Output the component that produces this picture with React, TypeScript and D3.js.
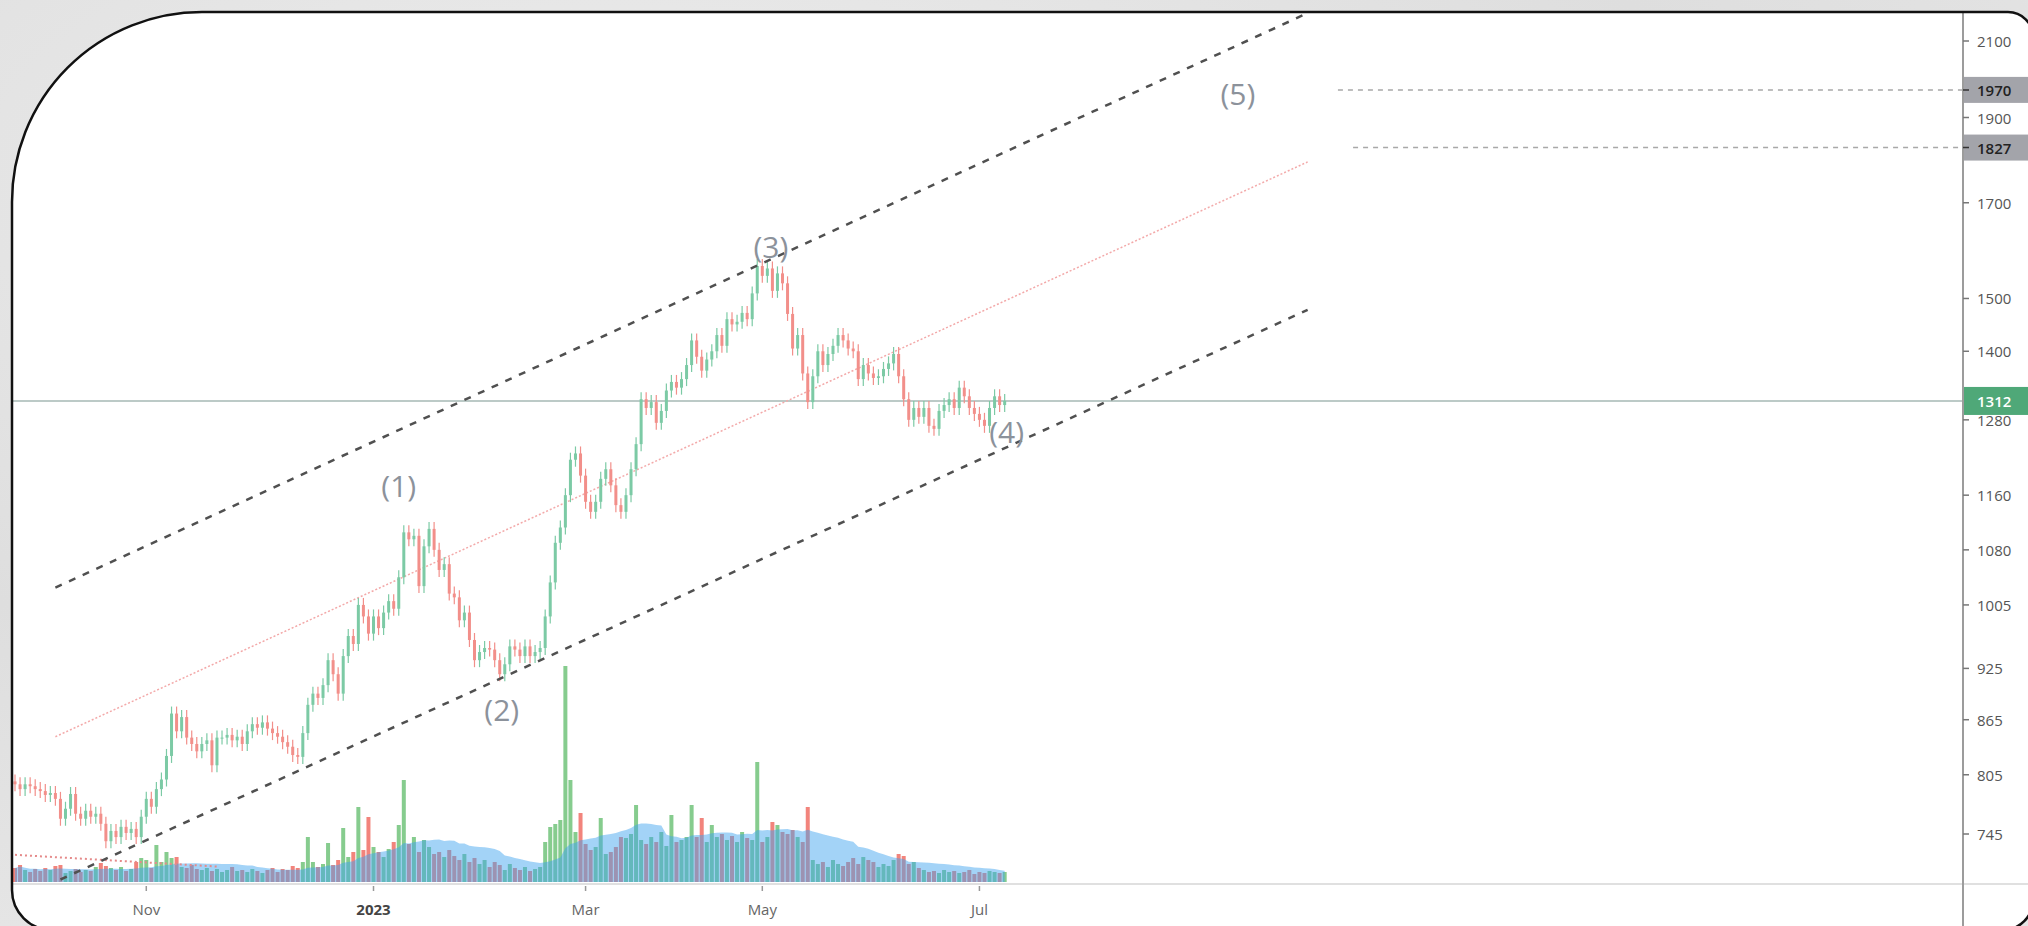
import * as d3 from "d3";

// daily closes, one per trading day (Sep 2022 -> Jul 2023)
const closes = [
  795, 790, 795, 793, 790, 788, 784, 786, 780, 760,
  770, 785, 765, 760, 768, 762, 765, 755, 738, 748,
  742, 752, 746, 750, 742, 762, 780, 772, 790, 800,
  825, 872, 852, 868, 845, 838, 830, 838, 842, 815,
  845, 845, 848, 842, 846, 838, 852, 860, 856, 862,
  855, 850, 846, 840, 835, 826, 824, 850, 882, 895,
  890, 905, 935, 918, 895, 940, 965, 955, 1005, 990,
  968, 990, 975, 995, 1010, 1000, 1042, 1105, 1095, 1100,
  1030, 1085, 1110, 1080, 1052, 1060, 1020, 1015, 985, 995,
  960, 935, 945, 950, 948, 935, 918, 930, 952, 948,
  940, 952, 940, 945, 950, 990, 1035, 1090, 1112, 1160,
  1215, 1225, 1190, 1150, 1135, 1150, 1185, 1200, 1175, 1145,
  1135, 1160, 1200, 1240, 1315, 1300, 1310, 1275, 1295, 1330,
  1345, 1335, 1350, 1375, 1420, 1390, 1365, 1385, 1400, 1430,
  1410, 1460, 1450, 1455, 1472, 1460, 1510, 1565, 1545, 1560,
  1515, 1550, 1530, 1470, 1405, 1430, 1360, 1310, 1355, 1400,
  1375, 1395, 1410, 1430, 1420, 1405, 1400, 1350, 1375, 1360,
  1352, 1355, 1368, 1378, 1395, 1355, 1315, 1280, 1300, 1285,
  1300, 1270, 1265, 1295, 1305, 1315, 1300, 1335, 1320, 1300,
  1290, 1280, 1270, 1300, 1320, 1305, 1312,
];
const firstOpen = 798;

const volumes = [
  14, 17, 12, 10, 13, 11, 14, 12, 16, 17,
  9, 11, 13, 10, 12, 11, 15, 19, 16, 14,
  12, 15, 11, 13, 20, 24, 22, 14, 37, 20,
  30, 24, 25, 15, 14, 17, 13, 12, 14, 11,
  13, 10, 12, 15, 11, 12, 10, 13, 11, 9,
  12, 14, 10, 13, 12, 16, 14, 20, 45, 20,
  15, 18, 39, 17, 22, 54, 25, 30, 75, 32,
  65, 35, 30, 25, 33, 40, 57, 102, 38, 45,
  30, 42, 35, 28, 30, 25, 32, 26, 22, 28,
  20, 24, 18, 22, 15, 20, 17, 12, 18, 14,
  12, 15, 11, 13, 15, 40, 55, 58, 62, 216,
  102, 50, 69, 38, 32, 35, 64, 28, 30, 35,
  45, 44, 48, 77, 42, 38, 45, 40, 50, 36,
  67, 40, 42, 45, 77, 45, 64, 40, 57, 45,
  48, 42, 46, 40, 50, 44, 42, 120, 40, 45,
  60, 57, 50, 48, 52, 45, 40, 75, 22, 18,
  20, 15, 22, 18, 16, 20, 24, 18, 25, 22,
  20, 15, 18, 16, 22, 28, 26, 18, 20, 14,
  12, 10, 11, 9, 12, 10, 11, 9, 10, 12,
  8, 10, 9, 11, 10, 9, 10,
];
const volumeMaPeriod = 20;

const priceTicks = [2100, 1900, 1700, 1500, 1400, 1280, 1160, 1080, 1005, 925, 865, 805, 745];
const lastPrice = 1312;

const timeLabels = ["Nov", "2023", "Mar", "May", "Jul"];
const timeBars = [26, 71, 113, 148, 191];

const targetPrices = [1970, 1827];
const targetStartBars = [262, 265];

// trend lines as [bar, price]
const upperChannel = [[8, 1028], [256, 2178]];
const lowerChannel = [[9, 702], [256, 1478]];
const midLine = [[8, 846], [256, 1793]];
const oldLine = [[0, 725], [40, 714]];

const waveLabels = ["(1)", "(2)", "(3)", "(4)", "(5)"];
const waveBars = [76, 96.4, 149.7, 196.4, 242.2];
const wavePrices = [1174, 877, 1605, 1260, 1962];

const W = 2028;
const H = 926;
const AXIS_X = 1963;
const SEP_Y = 884;
const UP = "#7ccaa5";
const DOWN = "#f28f8a";
const FONT = "'Open Sans', 'Noto Sans', sans-serif";

export default function App() {
  const x = d3.scaleLinear().domain([0, 385]).range([15, 1959]);
  const y = d3.scaleLog().domain([745, 2100]).range([834, 41]);
  const v = d3.scaleLinear().domain([0, 250]).range([882, 632]);

  const opens = closes.map((c, i) => (i === 0 ? firstOpen : closes[i - 1]));

  // volume moving average (the blue area)
  const ma = volumes.map((_, i) => {
    const from = Math.max(0, i - volumeMaPeriod + 1);
    return d3.mean(volumes.slice(from, i + 1)) as number;
  });

  const maArea = d3
    .area<number>()
    .x((_, i) => x(i))
    .y0(v(0))
    .y1((d) => v(d));

  const line = d3
    .line<number[]>()
    .x((d) => x(d[0]))
    .y((d) => y(d[1]));

  const R = 190;
  const frame = `M 12 ${12 + R} A ${R} ${R} 0 0 1 ${12 + R} 12 L 2008 12 A 25 25 0 0 1 2033 37 L 2033 900 A 30 30 0 0 1 2003 930 L 52 930 A 40 40 0 0 1 12 890 Z`;

  return (
    <>
      <style>{`body{margin:0;}`}</style>
      <svg width={W} height={H} style={{ display: "block" }} fontFamily={FONT}>
        <defs>
          <clipPath id="frameClip">
            <path d={frame} />
          </clipPath>
          <clipPath id="plotClip">
            <rect x={0} y={0} width={AXIS_X} height={SEP_Y} />
          </clipPath>
          <radialGradient id="marble" cx="0.3" cy="0.2" r="0.9">
            <stop offset="0" stopColor="#ececec" />
            <stop offset="0.6" stopColor="#dedede" />
            <stop offset="1" stopColor="#e6e6e6" />
          </radialGradient>
        </defs>

        <rect width={W} height={H} fill="url(#marble)" />
        <path d={frame} fill="#ffffff" />

        <g clipPath="url(#frameClip)">
          <g clipPath="url(#plotClip)">
            {/* last price line */}
            <line x1={12} x2={AXIS_X} y1={y(lastPrice)} y2={y(lastPrice)} stroke="#bccac7" strokeWidth={2} />

            {/* volume */}
            {volumes.map((vol, i) => (
              <rect
                key={"v" + i}
                x={x(i) - 2}
                width={4}
                y={v(vol)}
                height={v(0) - v(vol)}
                fill={closes[i] >= opens[i] ? "#86cc8e" : "#f2847c"}
              />
            ))}
            <path d={maArea(ma) ?? ""} fill="#3fa2ef" fillOpacity={0.48} />

            {/* old dotted line */}
            <path d={line(oldLine) ?? ""} stroke="#e58a8a" strokeWidth={2} strokeDasharray="2 3" fill="none" />

            {/* middle channel line */}
            <path d={line(midLine) ?? ""} stroke="#f3a9a9" strokeWidth={1.5} strokeDasharray="2 2" fill="none" />

            {/* candles */}
            {closes.map((c, i) => {
              const o = opens[i];
              const up = c >= o;
              const top = y(Math.max(o, c));
              const bot = y(Math.min(o, c));
              const col = up ? UP : DOWN;
              return (
                <g key={"c" + i}>
                  <line x1={x(i)} x2={x(i)} y1={top - 7} y2={bot + 7} stroke={col} strokeWidth={1.2} />
                  <rect x={x(i) - 1.5} width={3} y={top} height={Math.max(1, bot - top)} fill={col} />
                </g>
              );
            })}

            {/* channel lines */}
            <path d={line(upperChannel) ?? ""} stroke="#505050" strokeWidth={2.5} strokeDasharray="7 8" fill="none" />
            <path d={line(lowerChannel) ?? ""} stroke="#505050" strokeWidth={2.5} strokeDasharray="7 8" fill="none" />

            {/* target levels */}
            {targetPrices.map((p, i) => (
              <line
                key={"t" + i}
                x1={x(targetStartBars[i])}
                x2={AXIS_X}
                y1={y(p)}
                y2={y(p)}
                stroke="#a8a8a8"
                strokeWidth={1.5}
                strokeDasharray="5 5"
              />
            ))}

            {/* wave labels */}
            {waveLabels.map((t, i) => (
              <text
                key={"w" + i}
                x={x(waveBars[i])}
                y={y(wavePrices[i])}
                textAnchor="middle"
                dominantBaseline="central"
                fontSize={30}
                fill="#8c929b"
              >
                {t}
              </text>
            ))}
          </g>

          {/* separators */}
          <line x1={12} x2={2033} y1={SEP_Y} y2={SEP_Y} stroke="#e0e0e0" strokeWidth={2} />
          <line x1={AXIS_X} x2={AXIS_X} y1={12} y2={930} stroke="#9c9c9c" strokeWidth={2} />

          {/* price axis */}
          {priceTicks.map((p) => (
            <g key={"p" + p}>
              <line x1={AXIS_X} x2={AXIS_X + 6} y1={y(p)} y2={y(p)} stroke="#777" strokeWidth={1.5} />
              <text x={AXIS_X + 14} y={y(p)} dominantBaseline="central" fontSize={15} fill="#555">
                {p}
              </text>
            </g>
          ))}
          {targetPrices.map((p) => (
            <g key={"tb" + p}>
              <rect x={AXIS_X + 1} y={y(p) - 13} width={W - AXIS_X} height={26} fill="#a3a4aa" />
              <line x1={AXIS_X} x2={AXIS_X + 6} y1={y(p)} y2={y(p)} stroke="#333" strokeWidth={1.5} />
              <text x={AXIS_X + 14} y={y(p)} dominantBaseline="central" fontSize={15} fontWeight={600} fill="#222">
                {p}
              </text>
            </g>
          ))}
          <rect x={AXIS_X + 1} y={y(lastPrice) - 14} width={W - AXIS_X} height={28} fill="#4fa878" />
          <text x={AXIS_X + 14} y={y(lastPrice)} dominantBaseline="central" fontSize={15} fontWeight={600} fill="#ffffff">
            {lastPrice}
          </text>

          {/* time axis */}
          {timeLabels.map((t, i) => (
            <g key={"x" + t}>
              <line x1={x(timeBars[i])} x2={x(timeBars[i])} y1={SEP_Y + 2} y2={SEP_Y + 7} stroke="#999" strokeWidth={1.5} />
              <text
                x={x(timeBars[i])}
                y={909}
                textAnchor="middle"
                dominantBaseline="central"
                fontSize={15}
                fontWeight={t === "2023" ? 700 : 400}
                fill={t === "2023" ? "#444" : "#666"}
              >
                {t}
              </text>
            </g>
          ))}
        </g>

        <path d={frame} fill="none" stroke="#111" strokeWidth={2.5} />
      </svg>
    </>
  );
}
